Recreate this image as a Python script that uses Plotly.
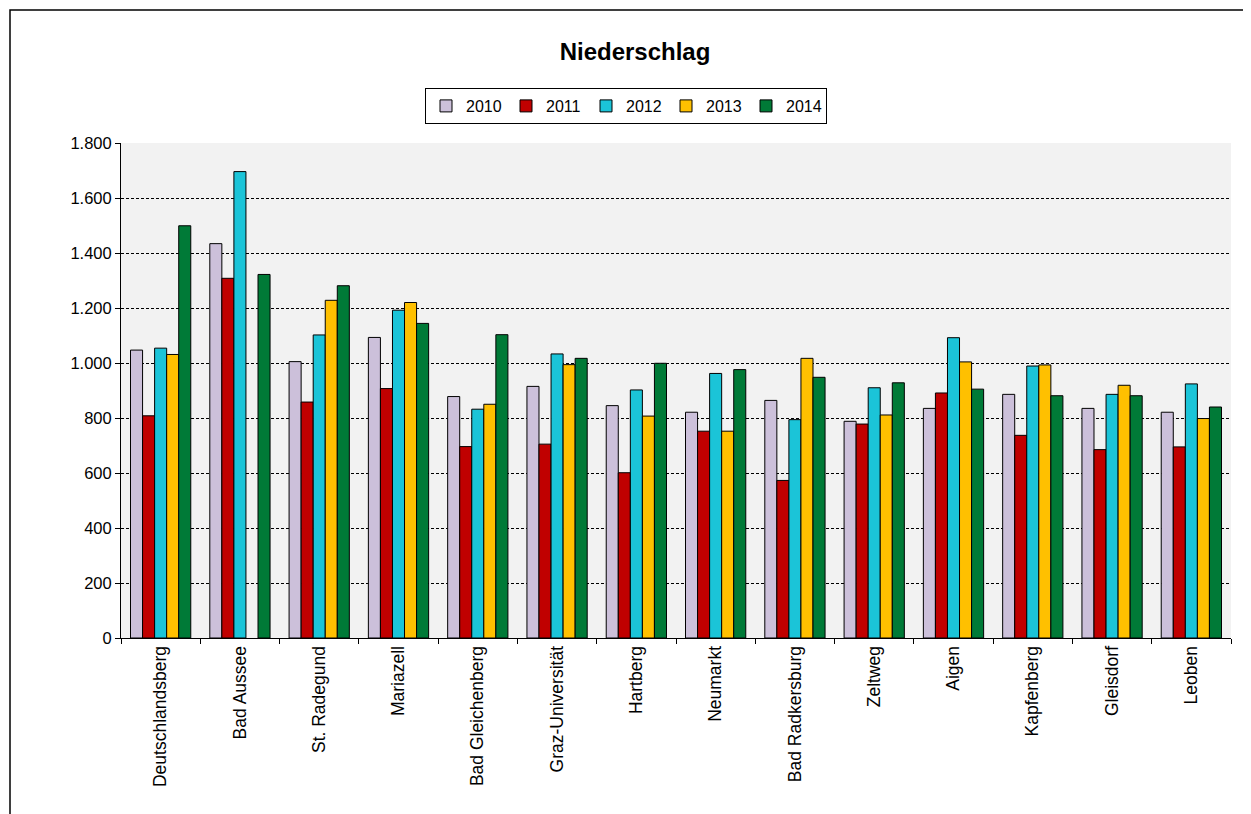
import plotly.graph_objects as go

stations = ["Deutschlandsberg", "Bad Aussee", "St. Radegund", "Mariazell", "Bad Gleichenberg",
            "Graz-Universität", "Hartberg", "Neumarkt", "Bad Radkersburg", "Zeltweg", "Aigen",
            "Kapfenberg", "Gleisdorf", "Leoben"]
years = ["2010", "2011", "2012", "2013", "2014"]

v2010 = [1047, 1434, 1005, 1093, 878, 915, 845, 821, 864, 788, 835, 886, 835, 821]
v2011 = [808, 1308, 858, 907, 696, 705, 601, 752, 573, 778, 891, 737, 685, 695]
v2012 = [1054, 1696, 1102, 1192, 832, 1033, 902, 962, 794, 910, 1092, 989, 886, 924]
v2013 = [1031, None, 1228, 1220, 850, 994, 807, 752, 1017, 811, 1004, 993, 919, 798]
v2014 = [1499, 1322, 1281, 1144, 1103, 1017, 999, 976, 948, 928, 905, 881, 881, 840]

colors = ["#CCC0DA", "#C00000", "#1BC4D8", "#FFC000", "#007A37"]

fig = go.Figure()
for name, vals, col in zip(years, [v2010, v2011, v2012, v2013, v2014], colors):
    fig.add_trace(go.Bar(x=stations, y=vals, name=name,
                         marker=dict(color=col, line=dict(color="black", width=1))))

# page body has an 8px margin, so figure coords = screen coords - 8
OFF = 8
W, H = 1243, 806
L, R, T, B = 121 - OFF, 1231 - OFF, 143 - OFF, 638 - OFF


def px_x(p):
    return (p - OFF - L) / (R - L)


def px_y(p):
    return (B - (p - OFF)) / (B - T)


fig.update_layout(
    width=W, height=H,
    margin=dict(l=L, r=W - R, t=T, b=H - B, pad=0),
    paper_bgcolor="white", plot_bgcolor="#F2F2F2",
    font=dict(family="Liberation Sans, Arial, sans-serif", size=16, color="black"),
    separators=",.",
    barmode="group", bargap=0.24, bargroupgap=0,
    title=dict(text="<b>Niederschlag</b>", x=(635 - OFF) / W, xanchor="center",
               y=1 - (52 - OFF) / H, yanchor="middle", yref="container",
               font=dict(size=24, color="black")),
    legend=dict(orientation="h", x=px_x(626), xanchor="center", y=px_y(88), yanchor="top",
                bordercolor="black", borderwidth=1, bgcolor="white",
                font=dict(size=16), itemwidth=30, traceorder="normal",
                entrywidth=35, entrywidthmode="pixels"),
    showlegend=True,
    shapes=[dict(type="rect", xref="paper", yref="paper",
                 x0=px_x(10), x1=px_x(1300), y0=px_y(900), y1=px_y(10),
                 line=dict(color="black", width=1.5), fillcolor="rgba(0,0,0,0)", layer="below")],
)

fig.update_xaxes(type="category", tickangle=-90, tickson="boundaries", ticks="outside",
                 ticklen=5, tickcolor="black", showline=True, linecolor="black", linewidth=1,
                 showgrid=False, tickfont=dict(size=17.5))
fig.update_yaxes(range=[0, 1800], dtick=200, tickformat=",d", ticks="outside", ticklen=5,
                 tickcolor="black", showline=True, linecolor="black", linewidth=1,
                 showgrid=True, gridcolor="black", gridwidth=1, griddash="3px,2px",
                 zeroline=False, tickfont=dict(size=16.5))

fig.write_html("out.html")
